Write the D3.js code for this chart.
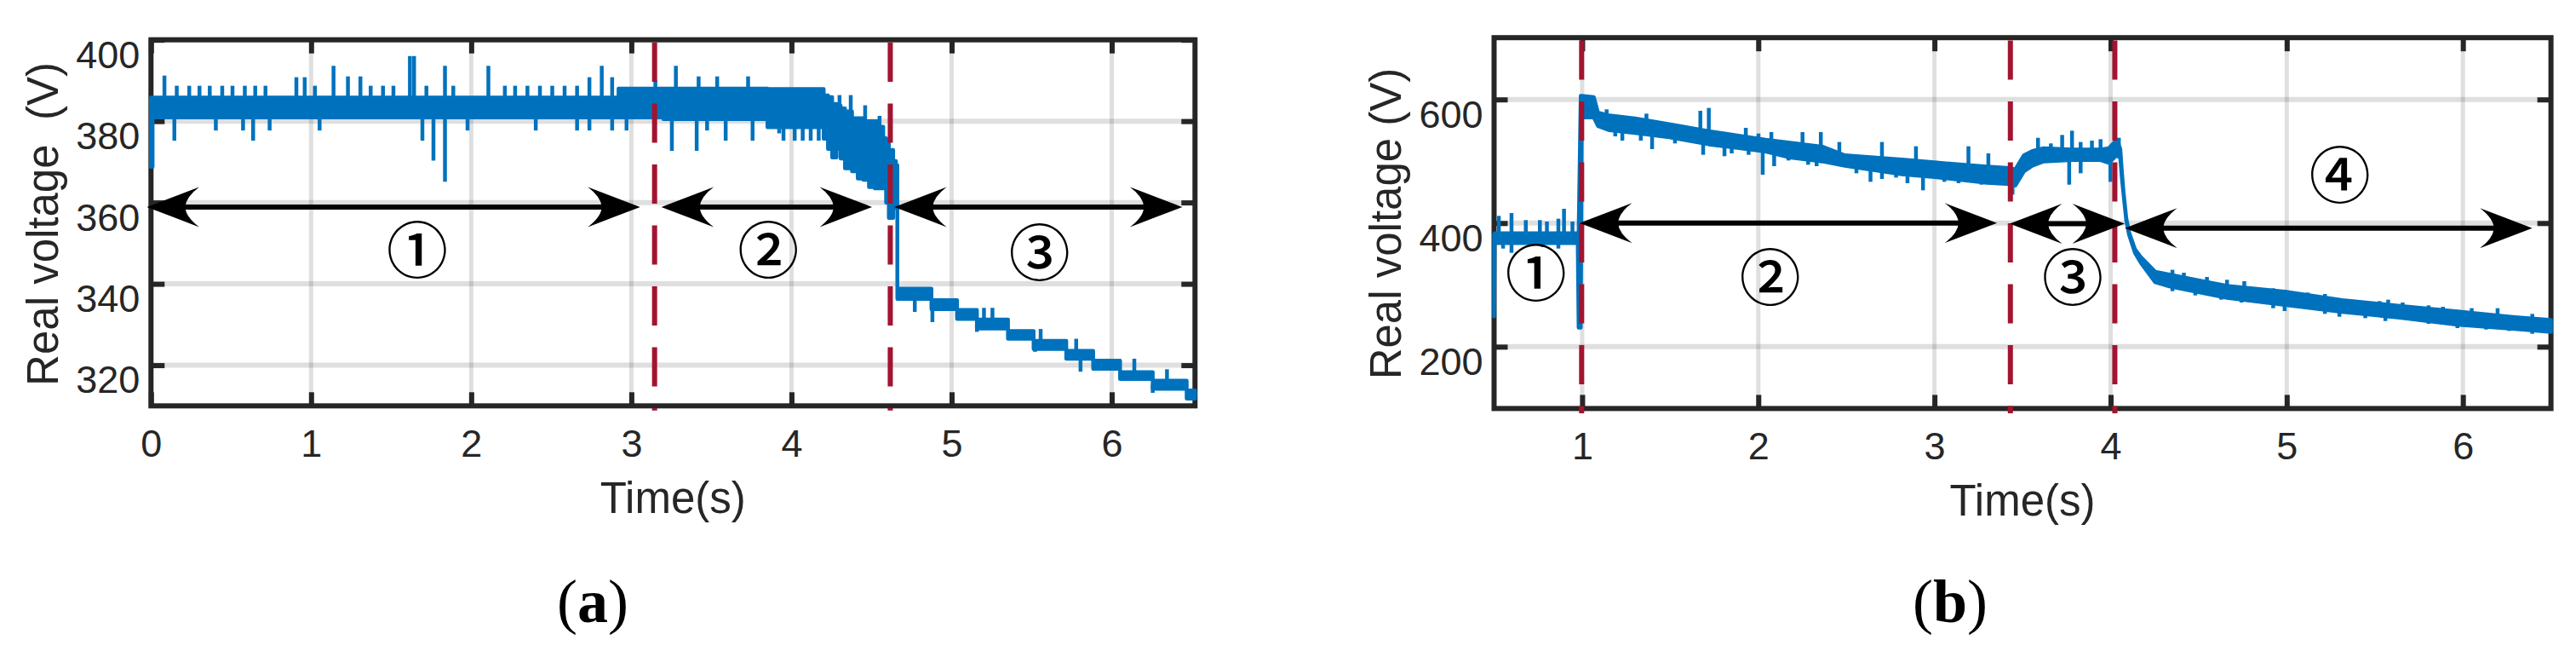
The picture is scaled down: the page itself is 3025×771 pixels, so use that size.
<!DOCTYPE html>
<html><head><meta charset="utf-8">
<script src="https://cdn.jsdelivr.net/npm/d3@7"></script>
<style>
html,body{margin:0;padding:0;background:#fff;}
svg{display:block;background:#fff;}
</style></head><body>
<svg id="c" width="3025" height="771"></svg>
<script>
// ---------------- DATA ----------------
// Panel (a): envelope of the quantised voltage trace (lower / upper level per time step)
const aTime = [0.000,0.010,2.920,3.200,3.850,4.201,4.228,4.254,4.281,4.307,4.334,4.360,4.378,4.414,4.449,4.484,4.520,4.546,4.573,4.591,4.608,4.635,4.652,4.661,4.874,5.034,5.158,5.352,5.512,5.716,5.884,6.052,6.256,6.468,6.520];
const aLow  = [368.8,380.9,380.9,380.5,378.5,375.7,373.2,371.1,373.2,370.8,368.4,370.8,367.7,365.9,365.6,363.8,363.5,363.5,363.5,360.0,356.2,358.6,360.0,336.3,333.8,331.4,329.0,326.5,324.0,321.6,319.1,316.6,314.2,311.8,311.8];
const aHigh = [385.8,385.8,388.0,388.0,387.9,386.3,385.9,384.2,383.8,383.1,382.4,382.4,380.7,380.7,380.0,380.0,380.0,378.6,375.8,375.1,372.9,370.2,369.2,338.8,336.0,333.6,331.2,328.4,326.0,323.5,321.1,318.3,316.2,313.8,313.8];
// Panel (a): isolated spikes (time, tip voltage)
const aSpikeTime = [0.084,0.161,0.239,0.303,0.367,0.445,0.509,0.586,0.651,0.715,0.908,0.960,1.024,1.140,1.230,1.308,1.372,1.449,1.514,1.617,1.643,1.720,1.836,1.888,2.107,2.210,2.274,2.351,2.429,2.506,2.583,2.661,2.738,2.815,2.880,3.150,3.278,3.420,3.536,3.729,4.300,4.370,4.460,4.550,5.202,5.255,5.556,5.778,6.141,6.345,
  0.146,0.405,0.575,0.638,0.741,1.053,1.695,1.764,1.836,1.977,2.403,2.661,2.738,2.880,2.970,3.253,3.408,3.473,3.589,3.757,3.923,3.950,4.020,4.070,4.120,4.170,4.770,4.880,5.158,5.521,5.805,6.256];
const aSpikeVolt = [391.2,388.7,388.7,388.7,388.7,388.7,388.7,388.7,388.7,388.7,390.8,390.8,388.7,393.6,391.0,391.0,388.7,388.7,388.7,396.0,396.0,388.7,393.6,388.7,393.6,388.7,388.7,388.7,388.7,388.7,388.7,388.7,390.8,393.6,390.8,390.0,393.6,391.0,391.0,391.0,386.4,386.4,383.9,381.3,334.1,334.1,328.9,326.5,321.6,319.0,
  375.2,377.7,377.7,375.2,377.7,377.7,375.2,370.3,365.1,377.7,377.7,377.7,377.7,377.7,377.7,372.7,372.7,377.7,375.2,375.2,377.0,375.2,375.2,375.2,375.2,375.2,333.1,330.6,328.2,323.3,318.4,313.2];

// Panel (b): envelope of the voltage trace
const bTime = [0.500,0.503,0.975,0.980,0.992,0.998,1.066,1.090,1.155,1.300,1.494,1.719,2.041,2.170,2.364,2.492,2.815,3.000,3.298,3.427,3.459,3.508,3.556,3.620,3.781,3.943,3.991,4.035,4.055,4.065,4.073,4.089,4.105,4.138,4.171,4.253,4.334,4.498,4.661,4.988,5.315,5.642,5.969,6.295,6.500];
const bLow  = [249,367.7,367.7,231,231,571,571,557.2,550.3,545.7,538.8,527.4,515.9,506.7,499.8,492.9,479.1,474.5,465.3,463.0,460.7,483.7,492.9,499.8,502.1,502.1,497.5,510,505,470,448,404,381,352,336,304.5,297.6,288.4,279.2,267.7,256.2,247.0,235.5,228.6,224.0];
const bHigh = [381,383.5,383.5,383.5,606,606,603.9,578.6,574.0,569.4,560.2,548.7,534.9,530.3,523.5,509.7,502.8,498.2,491.3,489.0,486.7,509.7,516.6,521.2,518.9,518.9,521.2,534.9,520,480,452,408,385,358,345,321.3,316.6,307.5,298.3,289.1,275.3,266.1,256.9,247.7,243.1];
const bSpikeTime = [0.527,0.599,0.680,0.760,0.800,0.865,0.897,0.945,1.139,1.365,1.671,1.719,1.929,2.001,2.074,2.251,2.355,2.460,2.702,2.895,3.193,3.306,3.588,3.661,3.725,3.781,3.830,3.894,3.943,4.047,
  0.551,0.599,0.712,0.776,0.865,1.228,1.397,1.687,1.808,2.025,2.090,2.637,2.702,2.847,2.935,3.443,3.765,3.830,3.999,
  1.188,1.333,1.527,1.849,1.945,2.171,2.283,2.331,2.557,2.782,3.056,3.137,3.266,
  4.351,4.416,4.547,4.661,4.759,4.923,4.988,5.119,5.217,5.299,5.429,5.527,5.576,5.658,5.805,5.887,6.050,6.197,6.394,
  4.351,4.481,4.628,4.743,4.923,4.988,5.217,5.299,5.446,5.560,5.805,5.969,6.132,6.263,6.394,6.459];
const bSpikeVolt = [411.7,416.3,404.8,404.8,402.5,407.1,423.2,402.5,584.0,577.1,581.7,586.3,554.1,544.9,547.2,547.2,547.2,531.2,531.2,524.3,524.3,512.8,538.0,528.9,542.6,549.5,531.2,533.4,535.7,538.0,
  358.8,351.9,363.4,361.1,358.8,533.4,519.7,510.5,508.2,478.3,492.1,466.8,471.4,464.5,453.0,446.1,462.2,480.6,466.8,
  540.3,533.4,528.9,512.8,510.5,501.3,494.4,492.1,480.6,473.7,466.8,464.5,462.2,
  324.4,319.7,312.9,308.3,306.0,294.5,292.2,287.6,285.3,276.1,273.8,273.8,276.1,271.5,266.9,264.6,262.3,262.3,253.1,
  289.9,283.0,276.1,271.5,262.3,257.7,253.1,248.5,246.2,241.6,237.0,230.1,227.8,225.5,220.9,223.2];

// Axes, ticks, annotations
const aXDomain = [0, 6.52], aYDomain = [310, 400];
const aXTicks = [0,1,2,3,4,5,6], aYTicks = [320,340,360,380,400];
const bXDomain = [0.5, 6.5], bYDomain = [100, 700];
const bXTicks = [1,2,3,4,5,6], bYTicks = [200,400,600];
const aDashTimes = [3.145, 4.617];
const bDashTimes = [0.997, 3.431, 4.024];
const aArrowStart = [-0.026, 3.187, 4.642], aArrowEnd = [3.055, 4.503, 6.441], aArrowVolt = [358.9, 358.9, 358.9];
const bArrowStart = [0.986, 3.427, 4.081], bArrowEnd = [3.355, 4.080, 6.394], bArrowVolt = [400.1, 399.0, 391.9];
const aMarkText = ['①','②','③'], aMarkTime = [1.663, 3.855, 5.549], aMarkVolt = [349.4, 349.4, 348.7];
const bMarkText = ['①','②','③','④'], bMarkTime = [0.738, 2.068, 3.785, 5.302], bMarkVolt = [325.5, 318.6, 318.6, 485.2];
const yLabelA = 'Real voltage  (V)', yLabelB = 'Real voltage (V)', xLabel = 'Time(s)';

// ---------------- DRAWING ----------------
const svg = d3.select('#c');
const AX = '#262626', BLUE = '#0072BD', RED = '#A2142F';
const SANS = '"Liberation Sans", Arial, Helvetica, sans-serif';

function panel(cfg) {
  const x = d3.scaleLinear().domain(cfg.xDomain).range([cfg.left, cfg.right]);
  const y = d3.scaleLinear().domain(cfg.yDomain).range([cfg.bottom, cfg.top]);
  const g = svg.append('g');

  // grid
  g.append('g').selectAll('line').data(cfg.xTicks).join('line')
    .attr('x1', d => x(d)).attr('x2', d => x(d)).attr('y1', cfg.top).attr('y2', cfg.bottom)
    .attr('stroke', AX).attr('stroke-opacity', 0.15).attr('stroke-width', 5);
  g.append('g').selectAll('line').data(cfg.yTicks).join('line')
    .attr('y1', d => y(d)).attr('y2', d => y(d)).attr('x1', cfg.left).attr('x2', cfg.right)
    .attr('stroke', AX).attr('stroke-opacity', 0.15).attr('stroke-width', 6);

  // axes
  const TS = 16;
  function styleAxis(sel) {
    sel.select('.domain').remove();
    sel.selectAll('.tick line').attr('stroke', AX).attr('stroke-width', 6);
    sel.selectAll('.tick text').attr('fill', AX).attr('font-family', SANS).attr('font-size', 45);
  }
  g.append('g').attr('transform', `translate(0,${cfg.bottom})`)
    .call(d3.axisBottom(x).tickValues(cfg.xTicks).tickSize(-TS).tickPadding(27).tickFormat(d3.format('d')))
    .call(styleAxis);
  g.append('g').attr('transform', `translate(0,${cfg.top})`)
    .call(d3.axisTop(x).tickValues(cfg.xTicks).tickSize(-TS).tickFormat(''))
    .call(styleAxis);
  g.append('g').attr('transform', `translate(${cfg.left},0)`)
    .call(d3.axisLeft(y).tickValues(cfg.yTicks).tickSize(-TS).tickPadding(13).tickFormat(d3.format('d')))
    .call(styleAxis);
  g.append('g').attr('transform', `translate(${cfg.right},0)`)
    .call(d3.axisRight(y).tickValues(cfg.yTicks).tickSize(-TS).tickFormat(''))
    .call(styleAxis);
  g.selectAll('.tick text').each(function() {
    const t = d3.select(this);
    if (t.attr('text-anchor') === 'end') t.attr('dy', '0.36em');
    else t.attr('dy', '0.72em');
  });
  g.append('rect').attr('x', cfg.left).attr('y', cfg.top)
    .attr('width', cfg.right - cfg.left).attr('height', cfg.bottom - cfg.top)
    .attr('fill', 'none').attr('stroke', AX).attr('stroke-width', 6);

  // trace envelope
  const pts = cfg.time.map((t, i) => ({t, lo: cfg.low[i], hi: cfg.high[i]}));
  const area = d3.area().curve(cfg.curve)
    .x(d => x(d.t)).y0(d => y(d.lo)).y1(d => y(d.hi));
  g.append('path').datum(pts).attr('d', area)
    .attr('fill', BLUE).attr('stroke', BLUE).attr('stroke-width', 4.5).attr('stroke-linejoin', 'round');

  // spikes
  function midAt(t) {
    const i = d3.bisector(d => d.t).right(pts, t) - 1;
    const a = pts[Math.max(0, i)], b = pts[Math.min(pts.length - 1, i + 1)];
    if (cfg.step || a === b) return (a.lo + a.hi) / 2;
    const f = (t - a.t) / (b.t - a.t);
    return ((a.lo + a.hi) / 2) * (1 - f) + ((b.lo + b.hi) / 2) * f;
  }
  g.append('g').selectAll('line').data(cfg.spikeTime.map((t, i) => ({t, v: cfg.spikeVolt[i]}))).join('line')
    .attr('x1', d => x(d.t)).attr('x2', d => x(d.t))
    .attr('y1', d => y(midAt(d.t))).attr('y2', d => y(d.v))
    .attr('stroke', BLUE).attr('stroke-width', 4.5);

  // dashed event lines
  g.append('g').selectAll('line').data(cfg.dash).join('line')
    .attr('x1', d => x(d)).attr('x2', d => x(d)).attr('y1', cfg.top + 3.3).attr('y2', cfg.bottom + 5.5)
    .attr('stroke', RED).attr('stroke-width', 6).attr('stroke-dasharray', '46,25.5');

  // double arrows
  function head(tx, ty, dir) {
    const L = 61.5, W = 23.5, N = 45;
    const c1x = tx - dir * L, nx = tx - dir * N, cx = tx - dir * (N + 1);
    return `M${tx},${ty}L${c1x},${ty - W}Q${cx},${ty - 12} ${nx},${ty}Q${cx},${ty + 12} ${c1x},${ty + W}Z`;
  }
  const arrows = cfg.arrowStart.map((s, i) => ({x1: x(s), x2: x(cfg.arrowEnd[i]), yy: y(cfg.arrowVolt[i])}));
  const ag = g.append('g');
  ag.selectAll('line').data(arrows).join('line')
    .attr('x1', d => d.x1 + 30).attr('x2', d => d.x2 - 30).attr('y1', d => d.yy).attr('y2', d => d.yy)
    .attr('stroke', '#000').attr('stroke-width', 6);
  ag.selectAll('path.l').data(arrows).join('path').attr('class', 'l')
    .attr('d', d => head(d.x1, d.yy, -1)).attr('fill', '#000');
  ag.selectAll('path.r').data(arrows).join('path').attr('class', 'r')
    .attr('d', d => head(d.x2, d.yy, 1)).attr('fill', '#000');

  // circled stage numbers
  g.append('g').selectAll('text').data(cfg.markText.map((s, i) => ({s, t: cfg.markTime[i], v: cfg.markVolt[i]}))).join('text')
    .attr('x', d => x(d.t)).attr('y', d => y(d.v))
    .attr('text-anchor', 'middle').attr('dominant-baseline', 'central')
    .attr('font-family', '"Noto Sans CJK JP", "DejaVu Sans", sans-serif').attr('font-size', 72)
    .attr('font-weight', 500)
    .attr('fill', '#000').text(d => d.s);

  // axis labels
  g.append('text').attr('x', (cfg.left + cfg.right) / 2).attr('y', cfg.bottom + 125.5)
    .attr('text-anchor', 'middle').attr('font-family', SANS).attr('font-size', 51).attr('fill', AX)
    .text(xLabel);
  g.append('text').attr('transform', `translate(${cfg.left - 109.5},${cfg.yLabelCenter}) rotate(-90)`)
    .attr('text-anchor', 'middle').attr('font-family', SANS).attr('font-size', 51).attr('fill', AX)
    .style('white-space', 'pre').text(cfg.yLabel);

  // caption
  const cap = g.append('text').attr('x', cfg.capX).attr('y', 730).attr('text-anchor', 'middle')
    .attr('font-family', '"Liberation Serif", "Times New Roman", serif').attr('font-size', 72).attr('fill', '#000');
  cap.append('tspan').text('(');
  cap.append('tspan').attr('font-weight', 'bold').text(cfg.capLetter);
  cap.append('tspan').text(')');
}

panel({
  xDomain: aXDomain, yDomain: aYDomain, xTicks: aXTicks, yTicks: aYTicks,
  left: 177.3, right: 1403.3, top: 46.7, bottom: 476.3,
  time: aTime, low: aLow, high: aHigh, curve: d3.curveStepAfter, step: true,
  spikeTime: aSpikeTime, spikeVolt: aSpikeVolt, dash: aDashTimes,
  arrowStart: aArrowStart, arrowEnd: aArrowEnd, arrowVolt: aArrowVolt,
  markText: aMarkText, markTime: aMarkTime, markVolt: aMarkVolt,
  yLabel: yLabelA, yLabelCenter: 263, capX: 696, capLetter: 'a'
});
panel({
  xDomain: bXDomain, yDomain: bYDomain, xTicks: bXTicks, yTicks: bYTicks,
  left: 1754.5, right: 2995.6, top: 44.2, bottom: 479.4,
  time: bTime, low: bLow, high: bHigh, curve: d3.curveLinear, step: false,
  spikeTime: bSpikeTime, spikeVolt: bSpikeVolt, dash: bDashTimes,
  arrowStart: bArrowStart, arrowEnd: bArrowEnd, arrowVolt: bArrowVolt,
  markText: bMarkText, markTime: bMarkTime, markVolt: bMarkVolt,
  yLabel: yLabelB, yLabelCenter: 262.5, capX: 2290, capLetter: 'b'
});
</script>
</body></html>
